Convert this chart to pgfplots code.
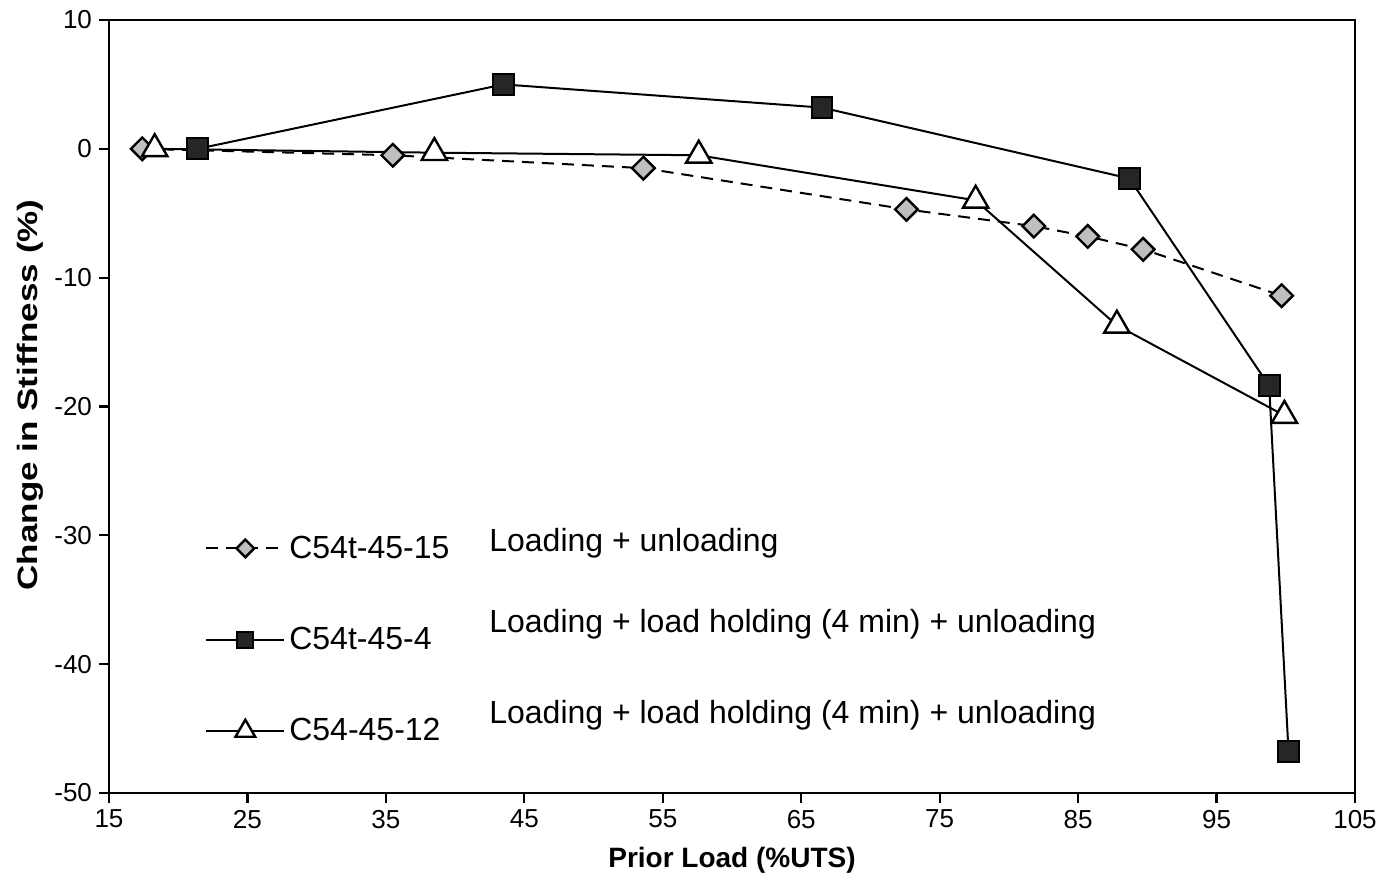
\documentclass[border=0pt]{standalone}
\usepackage{fontspec}
\setmainfont{Liberation Sans}
\usepackage{graphicx}
\usepackage{pgfplots}
\pgfplotsset{compat=1.18}
\begin{document}
\begin{tikzpicture}
\path[use as bounding box] (-54.5pt,-42.5pt) rectangle (641.5pt,396.5pt);
\begin{axis}[
  at={(0pt,0pt)}, anchor=south west,
  scale only axis, width=623pt, height=386.5pt,
  xmin=15, xmax=105, ymin=-50, ymax=10,
  xtick={15,25,...,105}, ytick={-50,-40,...,10},
  tick align=outside, major tick length=5pt,
  xtick pos=bottom, ytick pos=left,
  axis line style={line width=1.4pt},
  every tick/.style={black, line width=1.1pt},
  tick label style={font=\fontsize{13}{15}\selectfont},
  /pgf/number format/assume math mode=true,
  xlabel={Prior Load (\%UTS)},
  ylabel={\scalebox{1.25}[1]{Change in Stiffness (\%)}},
  label style={font=\bfseries\fontsize{14}{16}\selectfont},
  xlabel style={at={(rel axis cs:0.5,-0.0867)}, anchor=center},
  ylabel style={at={(rel axis cs:-0.0634,0.515)}, anchor=center},
  clip=false,
  legend style={draw=none, fill=none, inner sep=0pt,
    at={(rel axis cs:0.077,0.058)}, anchor=south west,
    font=\fontsize{16}{18}\selectfont, row sep=29pt,
    nodes={inner sep=2pt}},
  legend cell align=left,
  legend image code/.code={\draw[mark repeat=2,mark phase=2,#1,every mark/.append style={scale=0.78}] plot coordinates {(0pt,0pt) (19.5pt,0pt) (39pt,0pt)};},
]
\addplot[black, line width=1pt, dash pattern=on 6pt off 4pt,
  mark=square*, mark size=4pt,
  mark options={rotate=45, fill=black!25, solid, line width=1.2pt}]
  coordinates {(17.4,0) (35.5,-0.5) (53.6,-1.5) (72.6,-4.7) (81.8,-6.0) (85.7,-6.8) (89.7,-7.8) (99.7,-11.4)};
\addlegendentry{\makebox[100pt][l]{C54t-45-15}\raisebox{3.5pt}[0pt][0pt]{Loading + unloading}}
\addplot[black, line width=1pt,
  mark=square*, mark size=5.2pt,
  mark options={fill=black!85, solid, line width=1pt}]
  coordinates {(21.4,0) (43.5,5.0) (66.5,3.2) (88.7,-2.3) (98.8,-18.4) (100.2,-46.8)};
\addlegendentry{\makebox[100pt][l]{C54t-45-4}\raisebox{8.5pt}[0pt][0pt]{Loading + load holding (4 min) + unloading}}
\addplot[black, line width=1pt,
  mark=triangle*, mark size=7.3pt,
  mark options={fill=white, solid, line width=1.2pt}]
  coordinates {(18.3,0) (38.5,-0.3) (57.6,-0.5) (77.6,-4.0) (87.8,-13.7) (99.9,-20.7)};
\addlegendentry{\makebox[100pt][l]{C54-45-12}\raisebox{8.5pt}[0pt][0pt]{Loading + load holding (4 min) + unloading}}
\end{axis}
\end{tikzpicture}
\end{document}
